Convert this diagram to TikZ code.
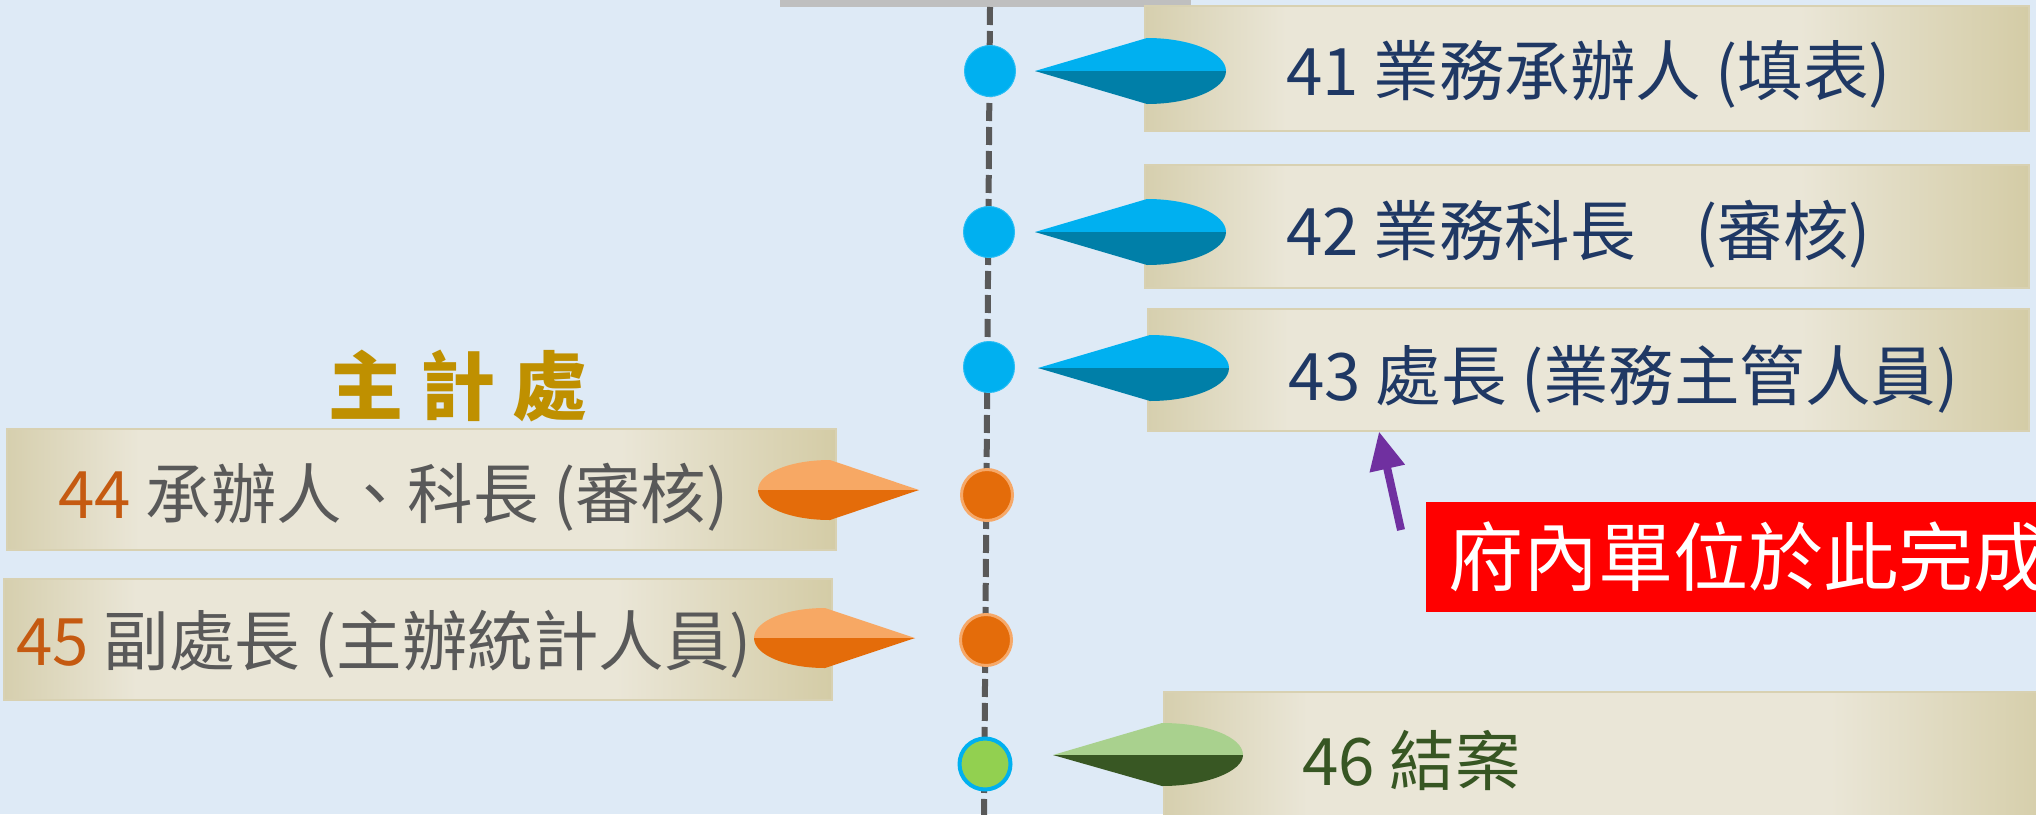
\documentclass[tikz,border=0pt]{standalone}
\usepackage{fontspec}
\setmainfont{Noto Sans CJK TC}
\usepackage{tikz}
\usepackage{xcolor}
\usetikzlibrary{arrows.meta}

\definecolor{bgBlue}{RGB}{222,234,246}
\definecolor{tanEdge}{RGB}{214,207,174}
\definecolor{tanMid}{RGB}{234,230,215}
\definecolor{tanRight}{RGB}{212,204,166}
\definecolor{numOrange}{RGB}{197,90,17}
\pgfdeclarehorizontalshading{plaque}{100bp}{color(0bp)=(tanEdge); color(25bp)=(tanEdge); color(33bp)=(tanMid); color(62bp)=(tanMid); color(75bp)=(tanRight); color(100bp)=(tanRight)}

\begin{document}
\begin{tikzpicture}[x=1pt,y=1pt,yscale=-1,xscale=1,
  plaque/.style={shade, shading=plaque, draw={rgb, 255:red, 216; green, 209; blue, 178}, line width=1.5pt, anchor=north west, inner sep=0pt},
  rowtext/.style={anchor=west, inner sep=0pt, font=\fontsize{65.5}{72}\selectfont},
  ball/.style={circle, inner sep=0pt, minimum size=51pt},
  blueball/.style={ball, fill={rgb, 255:red, 0; green, 176; blue, 240}, draw={rgb, 255:red, 40; green, 190; blue, 245}, line width=1pt},
  orangeball/.style={ball, fill={rgb, 255:red, 228; green, 108; blue, 10}, draw={rgb, 255:red, 246; green, 168; blue, 104}, line width=3pt},
  greenball/.style={ball, fill={rgb, 255:red, 146; green, 208; blue, 80}, draw={rgb, 255:red, 0; green, 176; blue, 240}, line width=4pt},
  blueUp/.style={fill={rgb, 255:red, 0; green, 176; blue, 240}},
  blueDn/.style={fill={rgb, 255:red, 0; green, 127; blue, 168}},
  orangeUp/.style={fill={rgb, 255:red, 247; green, 168; blue, 100}},
  orangeDn/.style={fill={rgb, 255:red, 228; green, 108; blue, 10}},
  greenUp/.style={fill={rgb, 255:red, 169; green, 209; blue, 142}},
  greenDn/.style={fill={rgb, 255:red, 56; green, 87; blue, 35}},
  stem/.style={draw={rgb, 255:red, 89; green, 89; blue, 89}, line width=6pt, dash pattern=on 18pt off 6pt},
  hintarrow/.style={draw={rgb, 255:red, 112; green, 48; blue, 160}, line width=8pt, -{Triangle[width=34pt,length=38pt]}}]

\useasboundingbox (0,0) rectangle (2036,814);
\clip (0,0) rectangle (2036,814);
\fill[bgBlue] (0,0) rectangle (2036,814);

%Top bar
\node[fill={rgb, 255:red, 191; green, 191; blue, 191}, inner sep=0pt, minimum width=411pt, minimum height=20pt, anchor=south west] (bar) at (780,7) {};

%Dashed stem
\coordinate (stemTop) at (990,7);
\coordinate (stemEnd) at (984,820);
\draw[stem] (stemTop) -- (stemEnd);

%Plaques
\node[plaque, minimum width=884pt, minimum height=125pt] (box41) at (1144,5) {};
\node[plaque, minimum width=884pt, minimum height=123pt] (box42) at (1144,164) {};
\node[plaque, minimum width=881pt, minimum height=122pt] (box43) at (1147,308) {};
\node[plaque, minimum width=829pt, minimum height=121pt] (box44) at (6,428) {};
\node[plaque, minimum width=828pt, minimum height=121pt] (box45) at (3,578) {};
\node[plaque, minimum width=900pt, minimum height=130pt] (box46) at (1163,691) {};

%Shape: Pointer 41
\fill[blueUp] (1035,71) -- (1147,38) .. controls (1191,38) and (1226,53) .. (1226,71) -- cycle;
\fill[blueDn] (1035,71) -- (1226,71) .. controls (1226,89) and (1191,104) .. (1147,104) -- cycle;
%Shape: Pointer 42
\fill[blueUp] (1035,232) -- (1147,199) .. controls (1191,199) and (1226,214) .. (1226,232) -- cycle;
\fill[blueDn] (1035,232) -- (1226,232) .. controls (1226,250) and (1191,265) .. (1147,265) -- cycle;
%Shape: Pointer 43
\fill[blueUp] (1038,368) -- (1150,335) .. controls (1194,335) and (1229,350) .. (1229,368) -- cycle;
\fill[blueDn] (1038,368) -- (1229,368) .. controls (1229,386) and (1194,401) .. (1150,401) -- cycle;
%Shape: Pointer 44
\fill[orangeUp] (919,490) -- (830,460) .. controls (790,460) and (758,473) .. (758,490) -- cycle;
\fill[orangeDn] (919,490) -- (758,490) .. controls (758,507) and (790,520) .. (830,520) -- cycle;
%Shape: Pointer 45
\fill[orangeUp] (915,638) -- (825,608) .. controls (786,608) and (754,621) .. (754,638) -- cycle;
\fill[orangeDn] (915,638) -- (754,638) .. controls (754,655) and (786,668) .. (825,668) -- cycle;
%Shape: Pointer 46
\fill[greenUp] (1053,755) -- (1162,723) .. controls (1207,723) and (1243,737) .. (1243,755) -- cycle;
\fill[greenDn] (1053,755) -- (1243,755) .. controls (1243,771) and (1207,786) .. (1162,786) -- cycle;

%Balls on the stem
\node[blueball] (c41) at (990,71) {};
\node[blueball] (c42) at (989,232) {};
\node[blueball] (c43) at (989,367) {};
\node[orangeball] (c44) at (987,495) {};
\node[orangeball] (c45) at (986,640) {};
\node[greenball] (c46) at (985,764) {};

% Text Nodes
\node[rowtext, text={rgb, 255:red, 31; green, 56; blue, 100}] (t41) at (1286,74) {41 業務承辦人 (填表)};
\node[rowtext, text={rgb, 255:red, 31; green, 56; blue, 100}] (t42) at (1286,234) {42 業務科長\hspace{60pt}(審核)};
\node[rowtext, text={rgb, 255:red, 31; green, 56; blue, 100}] (t43) at (1288,379) {43 處長 (業務主管人員)};
\node[rowtext, text={rgb, 255:red, 89; green, 89; blue, 89}] (t44) at (58,497) {{\color{numOrange}44} 承辦人、科長 (審核)};
\node[rowtext, text={rgb, 255:red, 89; green, 89; blue, 89}] (t45) at (16,644) {{\color{numOrange}45} 副處長 (主辦統計人員)};
\node[rowtext, text={rgb, 255:red, 55; green, 86; blue, 35}] (t46) at (1302,760) {46 結案};

\node[font=\fontsize{75}{80}\selectfont\bfseries, text={rgb, 255:red, 191; green, 144; blue, 0}] (dept) at (458,386) {主 計 處};

%Red note and its arrow
\node[anchor=west, fill=red, text=white, inner xsep=22pt, inner ysep=0pt, minimum height=110pt, font=\fontsize{75}{80}\selectfont] (note) at (1426,557) {府內單位於此完成};
\coordinate (noteTail) at (1401,530);
\draw[hintarrow] (noteTail) -- (1379,0 |- box43.south);

\end{tikzpicture}
\end{document}
